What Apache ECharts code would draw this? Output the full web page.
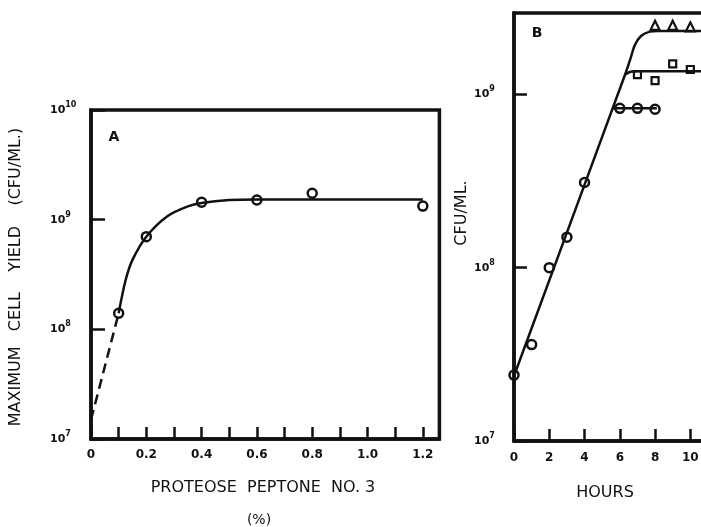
<!DOCTYPE html>
<html>
<head>
<meta charset="utf-8">
<script src="https://cdn.jsdelivr.net/npm/echarts@6/dist/echarts.min.js"></script>
<style>
html,body{margin:0;padding:0;background:#fff;}
#chart{width:701px;height:527px;}
</style>
</head>
<body>
<div id="chart"></div>
<script>
// ---------- Panel A data ----------
const peptonePct = [0.1, 0.2, 0.4, 0.6, 0.8, 1.2];
const maxYield = [1.4e8, 7.0e8, 1.44e9, 1.51e9, 1.74e9, 1.33e9];
const fitAx = [0.1, 0.125, 0.15, 0.2, 0.275, 0.35, 0.4, 0.5, 0.6, 0.8, 1.0, 1.2];
const fitAy = [1.4e8, 2.8e8, 4.3e8, 7.0e8, 1.07e9, 1.32e9, 1.42e9, 1.51e9, 1.53e9, 1.53e9, 1.53e9, 1.53e9];
const extrapAx = [0, 0.1];
const extrapAy = [1.5e7, 1.4e8];
const xTickLabelsA = ['0', '0.2', '0.4', '0.6', '0.8', '1.0', '1.2'];
const yExpA = [7, 8, 9, 10];

// ---------- Panel B data ----------
const hoursCircle = [0, 1, 2, 3, 4, 6, 7, 8];
const cfuCircle = [2.4e7, 3.6e7, 1.0e8, 1.5e8, 3.1e8, 8.3e8, 8.3e8, 8.2e8];
const hoursSquare = [7, 8, 9, 10];
const cfuSquare = [1.30e9, 1.20e9, 1.50e9, 1.39e9];
const hoursTri = [8, 9, 10];
const cfuTri = [2.5e9, 2.5e9, 2.45e9];
const fitMainX = [0, 6.3, 6.6, 6.85, 7.2, 7.7, 8.2, 12];
const fitMainY = [2.37e7, 1.30e9, 1.6e9, 1.92e9, 2.17e9, 2.3e9, 2.32e9, 2.32e9];
const fitSqX = [6.3, 6.6, 7, 12];
const fitSqY = [1.3e9, 1.35e9, 1.36e9, 1.36e9];
const fitCircX = [5.6, 8.1];
const fitCircY = [8.3e8, 8.3e8];
const xTickLabelsB = ['0', '2', '4', '6', '8', '10', '12'];
const yExpB = [7, 8, 9];

const INK = '#111';
const FONT = 'DejaVu Sans';
const pairs = (xs, ys) => xs.map((x, i) => [x, ys[i]]);

function logLabel(exps) {
  return function (v) {
    const e = Math.log10(v);
    const k = Math.round(e);
    if (Math.abs(e - k) > 1e-6 || exps.indexOf(k) < 0) return '';
    return '{b|10}{s|' + k + '}';
  };
}
const richLab = {
  b: { fontSize: 11, fontWeight: 'bold', fontFamily: FONT, color: INK, lineHeight: 18 },
  s: { fontSize: 8, fontWeight: 'bold', fontFamily: FONT, color: INK, lineHeight: 10, verticalAlign: 'top' }
};

function hollow(sym, size, bw) {
  return { symbol: sym, symbolSize: size, itemStyle: { color: 'rgba(0,0,0,0)', borderColor: INK, borderWidth: bw, opacity: 1 } };
}
function lineSeries(xi, data, dashed) {
  return {
    type: 'line', xAxisIndex: xi, yAxisIndex: xi, data: data, showSymbol: false, smooth: dashed ? false : 0.3,
    lineStyle: { color: INK, width: 2.5, type: dashed ? [10, 6] : 'solid', opacity: 1 }, silent: true, z: 2
  };
}

const chart = echarts.init(document.getElementById('chart'), null, { renderer: 'canvas' });
const axisLineStyle = { lineStyle: { color: INK, width: 3.5 } };

chart.setOption({
  animation: false,
  backgroundColor: '#fff',
  grid: [
    { left: 91, top: 110, right: 261.6, bottom: 88, show: true, borderColor: INK, borderWidth: 3.5, containLabel: false, outerBoundsMode: 'none' },
    { left: 514, top: 13, right: -24.6, bottom: 86, show: true, borderColor: INK, borderWidth: 3.5, containLabel: false, outerBoundsMode: 'none' }
  ],
  xAxis: [
    {
      type: 'value', gridIndex: 0, min: 0, max: 1.26, interval: 0.1,
      axisLine: axisLineStyle, splitLine: { show: false },
      axisTick: { inside: true, length: 12, lineStyle: { color: INK, width: 2.5 } },
      axisLabel: {
        margin: 10, color: INK, fontSize: 12, fontWeight: 'bold', fontFamily: FONT, showMaxLabel: false,
        formatter: function (v) {
          const k = Math.round(v * 10);
          if (Math.abs(v * 10 - k) > 1e-6 || k % 2) return '';
          return xTickLabelsA[k / 2] || '';
        }
      }
    },
    {
      type: 'value', gridIndex: 1, min: 0, max: 12, interval: 2,
      axisLine: axisLineStyle, splitLine: { show: false },
      axisTick: { inside: true, length: 12, lineStyle: { color: INK, width: 2.5 } },
      axisLabel: {
        margin: 11, color: INK, fontSize: 12, fontWeight: 'bold', fontFamily: FONT,
        formatter: function (v) { const k = Math.round(v / 2); return xTickLabelsB[k] || ''; }
      }
    }
  ],
  yAxis: [
    {
      type: 'log', logBase: 10, gridIndex: 0, min: 1e7, max: 1e10,
      axisLine: axisLineStyle, splitLine: { show: false }, minorTick: { show: false },
      axisTick: { inside: true, length: 14, lineStyle: { color: INK, width: 2.5 } },
      axisLabel: { margin: 41, align: 'left', formatter: logLabel(yExpA), rich: richLab }
    },
    {
      type: 'log', logBase: 10, gridIndex: 1, min: 1e7, max: Math.pow(10, 9.469),
      axisLine: axisLineStyle, splitLine: { show: false }, minorTick: { show: false },
      axisTick: { inside: true, length: 13, lineStyle: { color: INK, width: 2.5 } },
      axisLabel: { margin: 40, align: 'left', formatter: logLabel(yExpB), rich: richLab, showMaxLabel: false }
    }
  ],
  graphic: [
    { type: 'text', x: 16, y: 277, rotation: Math.PI / 2,
      style: { text: 'MAXIMUM   CELL    YIELD    (CFU/ML.)', fontSize: 16, fontFamily: FONT, fill: INK, align: 'center', verticalAlign: 'middle' } },
    { type: 'text', x: 263, y: 488,
      style: { text: 'PROTEOSE  PEPTONE  NO. 3', fontSize: 16, fontFamily: FONT, fill: INK, align: 'center', verticalAlign: 'middle' } },
    { type: 'text', x: 259, y: 520,
      style: { text: '(%)', fontSize: 14, fontFamily: FONT, fill: INK, align: 'center', verticalAlign: 'middle' } },
    { type: 'text', x: 605, y: 493,
      style: { text: 'HOURS', fontSize: 16, fontFamily: FONT, fill: INK, align: 'center', verticalAlign: 'middle' } },
    { type: 'text', x: 462, y: 213, rotation: Math.PI / 2,
      style: { text: 'CFU/ML.', fontSize: 16, fontFamily: FONT, fill: INK, align: 'center', verticalAlign: 'middle' } },
    { type: 'text', x: 114, y: 137,
      style: { text: 'A', fontSize: 14, fontWeight: 'bold', fontFamily: FONT, fill: INK, align: 'center', verticalAlign: 'middle' } },
    { type: 'text', x: 537, y: 33,
      style: { text: 'B', fontSize: 14, fontWeight: 'bold', fontFamily: FONT, fill: INK, align: 'center', verticalAlign: 'middle' } }
  ],
  series: [
    lineSeries(0, pairs(extrapAx, extrapAy), true),
    lineSeries(0, pairs(fitAx, fitAy), false),
    Object.assign({ type: 'scatter', xAxisIndex: 0, yAxisIndex: 0, data: pairs(peptonePct, maxYield), z: 3 }, hollow('circle', 9, 2.5)),

    lineSeries(1, pairs(fitMainX, fitMainY), false),
    lineSeries(1, pairs(fitSqX, fitSqY), false),
    lineSeries(1, pairs(fitCircX, fitCircY), false),
    Object.assign({ type: 'scatter', xAxisIndex: 1, yAxisIndex: 1, data: pairs(hoursCircle, cfuCircle), z: 3 }, hollow('circle', 9, 2.5)),
    Object.assign({ type: 'scatter', xAxisIndex: 1, yAxisIndex: 1, data: pairs(hoursSquare, cfuSquare), z: 3 }, hollow('rect', 7, 2.2)),
    Object.assign({ type: 'scatter', xAxisIndex: 1, yAxisIndex: 1, data: pairs(hoursTri, cfuTri), z: 3 }, hollow('triangle', 9, 2.2))
  ]
});
</script>
</body>
</html>
